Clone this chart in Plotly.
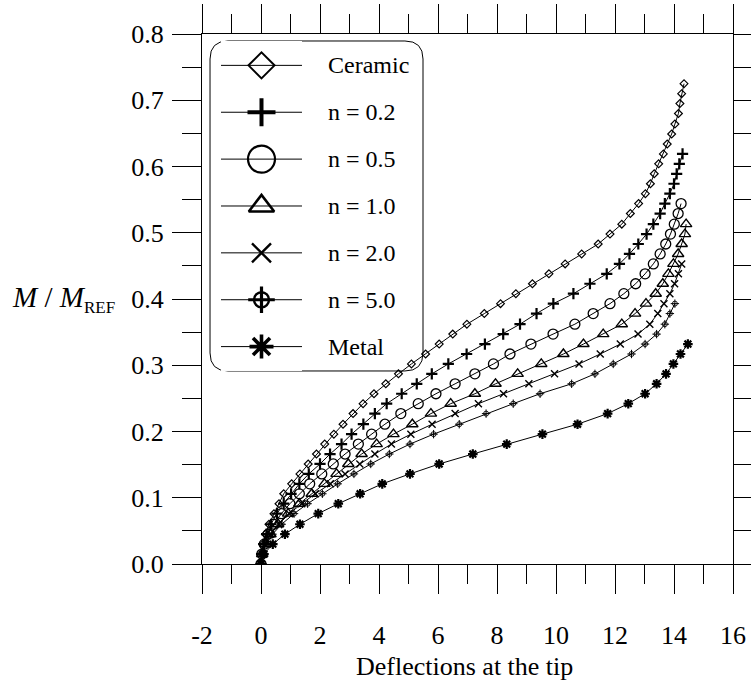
import plotly.graph_objects as go

# ---------------- data ----------------
load_ratio = [0.000, 0.015, 0.030, 0.045, 0.060, 0.076, 0.091, 0.106, 0.121, 0.136,
              0.151, 0.166, 0.181, 0.196, 0.211, 0.227, 0.242, 0.257, 0.272, 0.287,
              0.302, 0.317, 0.332, 0.347, 0.362, 0.378, 0.393, 0.408, 0.423, 0.438,
              0.453, 0.468, 0.483, 0.498, 0.513, 0.529, 0.544, 0.559, 0.574, 0.589,
              0.604, 0.619, 0.634, 0.649, 0.664, 0.680, 0.695, 0.710, 0.725]

ceramic_x = [0, 0.02, 0.07, 0.15, 0.27, 0.44, 0.61, 0.77, 1.04, 1.32,
             1.60, 1.88, 2.16, 2.47, 2.78, 3.12, 3.46, 3.83, 4.23, 4.66,
             5.10, 5.58, 6.04, 6.50, 6.98, 7.57, 8.12, 8.64, 9.20, 9.76,
             10.31, 10.87, 11.43, 11.83, 12.23, 12.52, 12.80, 13.03, 13.20, 13.33,
             13.48, 13.64, 13.77, 13.92, 14.03, 14.15, 14.20, 14.26, 14.34]

n02_x = [0, 0.02, 0.09, 0.19, 0.34, 0.54, 0.77, 1.02, 1.30, 1.62,
         2.00, 2.34, 2.73, 3.07, 3.47, 3.86, 4.26, 4.77, 5.28, 5.79,
         6.35, 6.97, 7.59, 8.21, 8.78, 9.34, 9.91, 10.59, 11.15, 11.72,
         12.15, 12.49, 12.79, 13.07, 13.30, 13.53, 13.69, 13.86, 14.00, 14.09,
         14.18, 14.29]

n05_x = [0, 0.03, 0.11, 0.24, 0.43, 0.69, 0.98, 1.30, 1.65, 2.06,
         2.45, 2.85, 3.30, 3.75, 4.20, 4.74, 5.33, 5.93, 6.58, 7.25,
         7.88, 8.44, 9.15, 9.90, 10.64, 11.26, 11.83, 12.30, 12.70, 13.02,
         13.30, 13.53, 13.72, 13.88, 14.01, 14.14, 14.24]

n10_x = [0, 0.04, 0.15, 0.32, 0.58, 0.92, 1.30, 1.72, 2.15, 2.56,
         2.96, 3.41, 3.92, 4.49, 5.13, 5.76, 6.43, 7.25, 7.95, 8.70,
         9.50, 10.25, 10.93, 11.60, 12.23, 12.68, 13.05, 13.38, 13.62, 13.81,
         13.98, 14.14, 14.26, 14.37, 14.41]

n20_x = [0, 0.04, 0.15, 0.33, 0.60, 0.96, 1.38, 1.84, 2.35, 2.85,
         3.35, 3.86, 4.42, 5.08, 5.80, 6.58, 7.37, 8.22, 9.08, 9.95,
         10.78, 11.50, 12.18, 12.78, 13.18, 13.45, 13.66, 13.86, 14.02, 14.15,
         14.26]

n50_x = [0, 0.04, 0.17, 0.39, 0.70, 1.12, 1.58, 2.08, 2.60, 3.15,
         3.72, 4.35, 5.05, 5.85, 6.72, 7.63, 8.55, 9.46, 10.53, 11.32,
         11.94, 12.56, 13.02, 13.41, 13.69, 13.86, 14.03]

metal_x = [0, 0.10, 0.40, 0.81, 1.32, 1.94, 2.62, 3.36, 4.11, 5.05,
           6.04, 7.18, 8.33, 9.54, 10.73, 11.75, 12.45, 13.02, 13.41, 13.73,
           13.98, 14.22, 14.47]

series_names = ["Ceramic", "n = 0.2", "n = 0.5", "n = 1.0", "n = 2.0", "n = 5.0", "Metal"]
series_x = [ceramic_x, n02_x, n05_x, n10_x, n20_x, n50_x, metal_x]

x_tick_vals = [-2, 0, 2, 4, 6, 8, 10, 12, 14, 16]
x_tick_text = ["-2", "0", "2", "4", "6", "8", "10", "12", "14", "16"]
y_tick_vals = [0.0, 0.1, 0.2, 0.3, 0.4, 0.5, 0.6, 0.7, 0.8]
y_tick_text = ["0.0", "0.1", "0.2", "0.3", "0.4", "0.5", "0.6", "0.7", "0.8"]

# ---------------- styles ----------------
FONT = "Liberation Serif"
BLACK = "black"
# (symbol, plot size, plot line width, legend size, legend line width)
marker_styles = [
    [("diamond-open", 6, 1.2, 20, 2.0)],
    [("cross-thin-open", 8, 2.2, 20, 4.0)],
    [("circle-open", 10, 1.3, 27, 2.2)],
    [("triangle-up-open", 10, 1.4, 22, 2.6)],
    [("x-thin-open", 7, 1.4, 19, 2.4)],
    [("circle-open", 5, 0.9, 15, 2.4), ("cross-thin-open", 6, 1.0, 19, 3.2)],
    [("asterisk-open", 8, 2.2, 20, 3.6)],
]

fig = go.Figure()

for name, xs, styles in zip(series_names, series_x, marker_styles):
    ys = load_ratio[:len(xs)]
    sym, sz, lw, _, _ = styles[0]
    fig.add_trace(go.Scatter(
        x=xs, y=ys, mode="lines+markers", name=name, showlegend=False,
        line=dict(color=BLACK, width=1),
        marker=dict(symbol=sym, size=sz, color=BLACK, line=dict(color=BLACK, width=lw)),
        xaxis="x", yaxis="y"))
    for sym, sz, lw, _, _ in styles[1:]:
        fig.add_trace(go.Scatter(
            x=xs, y=ys, mode="markers", name=name, showlegend=False,
            marker=dict(symbol=sym, size=sz, color=BLACK, line=dict(color=BLACK, width=lw)),
            xaxis="x", yaxis="y"))

# ---------------- custom legend (sample glyphs on a hidden overlay axis) ----------------
for i, (name, styles) in enumerate(zip(series_names, marker_styles)):
    fig.add_trace(go.Scatter(
        x=[0, 1], y=[i, i], mode="lines", showlegend=False, hoverinfo="skip",
        line=dict(color=BLACK, width=1), xaxis="x2", yaxis="y2"))
    for sym, _, _, lsz, llw in styles:
        fig.add_trace(go.Scatter(
            x=[0.5], y=[i], mode="markers", showlegend=False, hoverinfo="skip",
            marker=dict(symbol=sym, size=lsz, color=BLACK, line=dict(color=BLACK, width=llw)),
            xaxis="x2", yaxis="y2"))
    fig.add_annotation(text=name, xref="paper", yref="y2", x=0.2335, y=i,
                       xanchor="left", yanchor="middle", showarrow=False,
                       font=dict(family=FONT, size=24, color=BLACK))

# rounded legend frame (paper coordinates)
x0, x1, y0, y1 = 0.0151, 0.4162, 0.3642, 0.9868
rx, ry = 0.034, 0.034
path = (f"M{x0+rx},{y1} L{x1-rx},{y1} Q{x1},{y1} {x1},{y1-ry} "
        f"L{x1},{y0+ry} Q{x1},{y0} {x1-rx},{y0} "
        f"L{x0+rx},{y0} Q{x0},{y0} {x0},{y0+ry} "
        f"L{x0},{y1-ry} Q{x0},{y1} {x0+rx},{y1} Z")
fig.add_shape(type="path", path=path, xref="paper", yref="paper",
              line=dict(color=BLACK, width=1), fillcolor="white", layer="below")

# axis titles
fig.add_annotation(text="<i>M</i> / <i>M</i><sub><span style='font-size:17px'>REF</span></sub>",
                   xref="paper", yref="paper", x=-0.362, y=0.5,
                   xanchor="left", yanchor="middle", showarrow=False,
                   font=dict(family=FONT, size=29, color=BLACK))
fig.add_annotation(text="Deflections at the tip", xref="paper", yref="paper",
                   x=0.495, y=-0.1925, xanchor="center", yanchor="middle", showarrow=False,
                   font=dict(family=FONT, size=26, color=BLACK))

axis_common = dict(showline=True, linecolor=BLACK, linewidth=1, mirror="ticks",
                   ticks="outside", ticklen=29, tickwidth=1, tickcolor=BLACK,
                   showgrid=False, zeroline=False, automargin=False,
                   tickfont=dict(family=FONT, size=26, color=BLACK))

fig.update_layout(
    width=751, height=685,
    margin=dict(l=202, r=18, t=34, b=121),
    paper_bgcolor="white", plot_bgcolor="white",
    showlegend=False,
    xaxis=dict(range=[-2, 16], tickmode="array", tickvals=x_tick_vals, ticktext=x_tick_text,
               ticklabelstandoff=19,
               minor=dict(dtick=1, ticklen=19, ticks="outside", tickcolor=BLACK, tickwidth=1),
               **axis_common),
    yaxis=dict(range=[0, 0.8], tickmode="array", tickvals=y_tick_vals, ticktext=y_tick_text,
               ticklabelstandoff=3,
               minor=dict(dtick=0.05, ticklen=19, ticks="outside", tickcolor=BLACK, tickwidth=1),
               **axis_common),
    xaxis2=dict(domain=[0.0358, 0.1883], range=[0, 1], visible=False, anchor="y2"),
    yaxis2=dict(domain=[0.3642, 0.9868], range=[6.52, -0.52], visible=False, anchor="x2"),
)

fig.write_html("out.html")
